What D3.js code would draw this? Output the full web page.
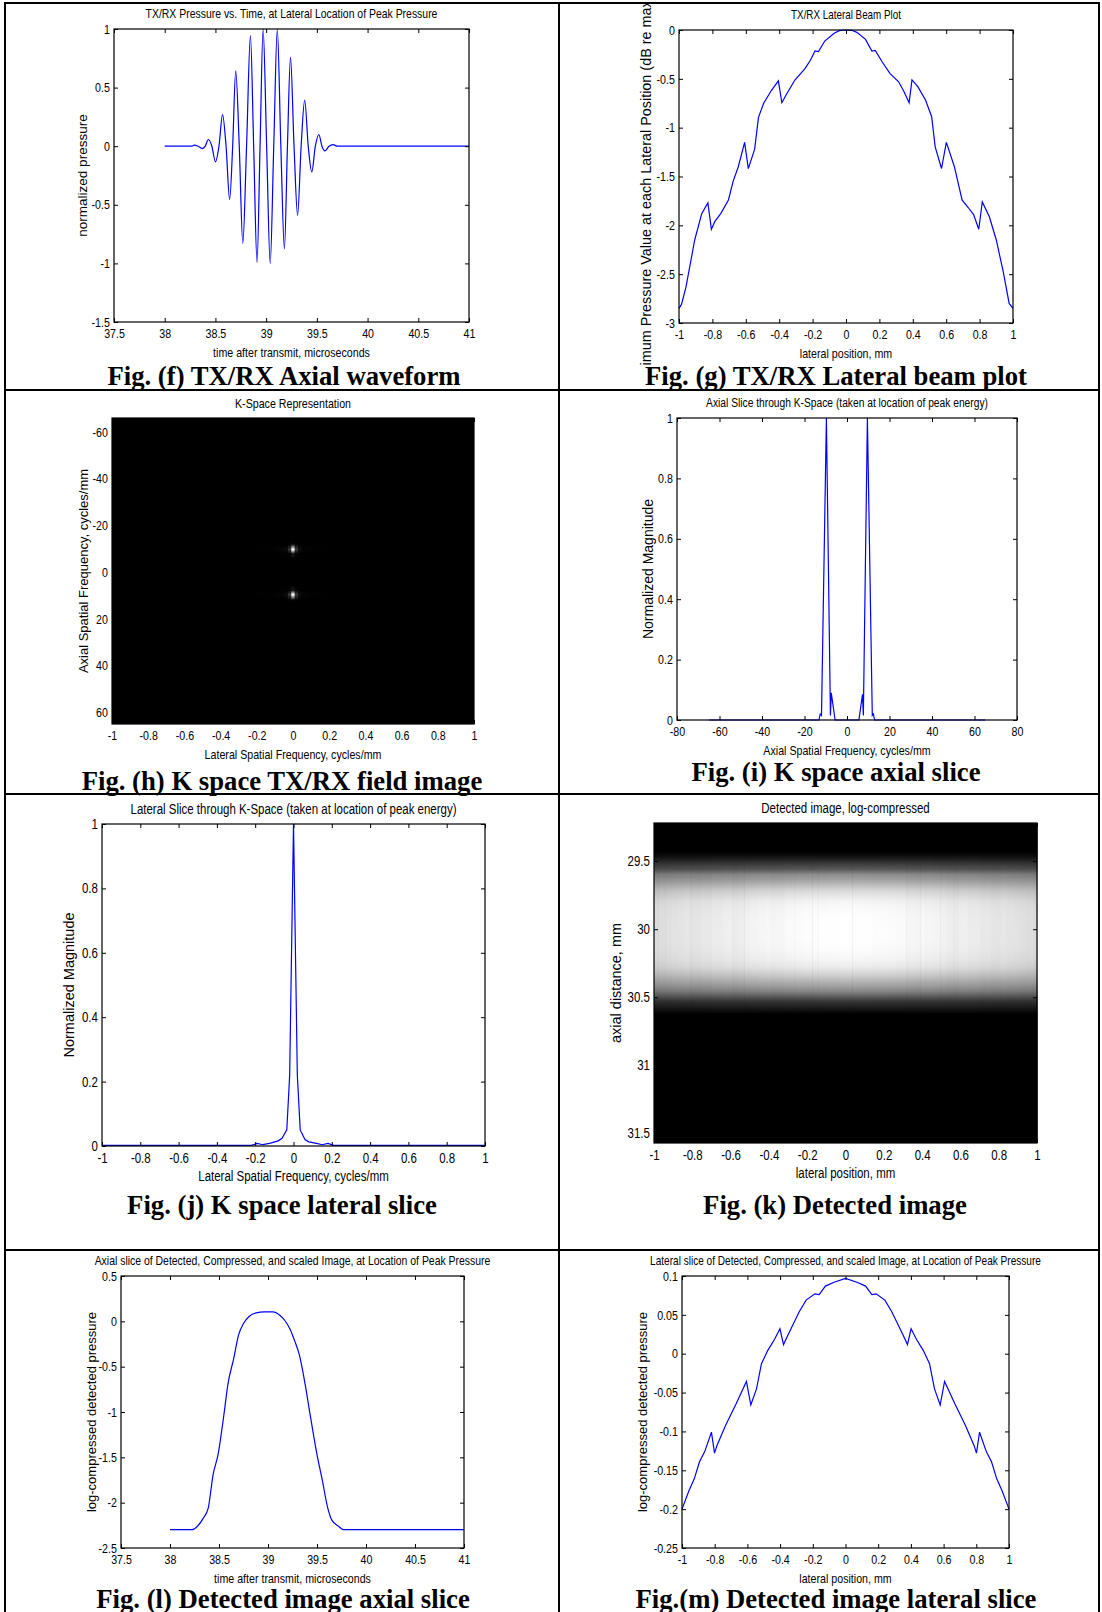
<!DOCTYPE html>
<html>
<head>
<meta charset="utf-8">
<script src="https://cdn.jsdelivr.net/npm/d3@7"></script>
<style>
body{margin:0;background:#fff;}
svg{display:block;}
</style>
</head>
<body>
<div id="chart"></div>
<script>
// ---- data ----
// (f) TX/RX axial waveform
var fTime = [38.0,38.27,38.29,38.33,38.37,38.40,38.43,38.465,38.50,38.535,38.57,38.605,38.64,38.67,38.70,38.735,38.77,38.807,38.845,38.877,38.91,38.94,38.97,39.005,39.04,39.075,39.11,39.145,39.18,39.21,39.24,39.275,39.31,39.345,39.38,39.415,39.45,39.485,39.52,39.55,39.58,39.62,39.66,39.70,41.0];
var fPressure = [0,0,0.01,0,-0.02,0,0.057,0,-0.134,0,0.27,0,-0.454,0,0.643,0,-0.829,0,0.943,0,-0.991,0,1.0,0,-1.0,0,0.994,0,-0.877,0,0.76,0,-0.59,0,0.394,0,-0.22,0,0.1,0,-0.04,0,0.014,0,0];

// (g) TX/RX lateral beam plot, dB
var gPos = [-1,-0.985,-0.958,-0.906,-0.864,-0.827,-0.806,-0.785,-0.75,-0.704,-0.676,-0.645,-0.607,-0.585,-0.547,-0.524,-0.493,-0.447,-0.405,-0.384,-0.359,-0.305,-0.248,-0.213,-0.186,-0.165,-0.127,-0.071,-0.04,0,0.035,0.065,0.117,0.155,0.175,0.217,0.263,0.315,0.347,0.378,0.395,0.43,0.476,0.513,0.534,0.572,0.601,0.649,0.695,0.733,0.764,0.795,0.816,0.858,0.9,0.942,0.977,1];
var gDb = [-2.85,-2.81,-2.63,-2.15,-1.88,-1.77,-2.04,-1.96,-1.88,-1.74,-1.55,-1.40,-1.15,-1.42,-1.22,-0.895,-0.75,-0.62,-0.52,-0.745,-0.666,-0.51,-0.40,-0.31,-0.215,-0.222,-0.113,-0.034,-0.007,0,-0.003,-0.024,-0.096,-0.215,-0.21,-0.328,-0.444,-0.53,-0.63,-0.745,-0.51,-0.58,-0.717,-0.888,-1.196,-1.418,-1.15,-1.40,-1.74,-1.82,-1.89,-2.04,-1.76,-1.91,-2.15,-2.48,-2.80,-2.85];

// (i) axial slice through k-space
var iFreq = [-65,-13.2,-12.6,-12.0,-9.7,-7.8,-7.4,-5.6,5.6,7.3,7.7,9.6,11.9,12.4,13,65];
var iMag = [0,0,0.02,0.015,1,0.015,0.09,0,0,0.085,0.015,1,0.015,0.02,0,0];

// (j) lateral slice through k-space
var jFreq = [-1,-0.22,-0.19,-0.16,-0.12,-0.08,-0.06,-0.035,-0.02,0,0.02,0.035,0.06,0.08,0.12,0.15,0.18,0.21,1];
var jMag = [0.002,0.002,0.008,0.004,0.009,0.016,0.024,0.05,0.22,1,0.22,0.05,0.02,0.013,0.008,0.004,0.008,0.002,0.002];

// (l) axial slice of detected image
var lTime = [38.0,38.223,38.28,38.34,38.39,38.44,38.49,38.55,38.59,38.65,38.70,38.75,38.81,38.88,38.96,39.05,39.12,39.17,39.23,39.27,39.32,39.38,39.43,39.50,39.55,39.61,39.65,39.72,39.77,41.0];
var lValue = [-2.298,-2.298,-2.26,-2.17,-2.06,-1.69,-1.47,-1.03,-0.70,-0.41,-0.15,-0.024,0.056,0.093,0.104,0.104,0.067,0.012,-0.098,-0.21,-0.37,-0.70,-1.03,-1.47,-1.73,-2.06,-2.19,-2.26,-2.298,-2.298];

// (m) lateral slice of detected image
var mPos = [-1,-0.957,-0.925,-0.893,-0.861,-0.82,-0.801,-0.786,-0.733,-0.668,-0.606,-0.579,-0.544,-0.514,-0.476,-0.433,-0.401,-0.379,-0.352,-0.283,-0.241,-0.187,-0.161,-0.123,-0.07,0,0.07,0.123,0.161,0.187,0.241,0.283,0.352,0.379,0.401,0.433,0.476,0.514,0.544,0.579,0.606,0.668,0.733,0.786,0.801,0.82,0.861,0.893,0.925,0.957,1];
var mValue = [-0.2,-0.176,-0.161,-0.139,-0.126,-0.101,-0.128,-0.118,-0.092,-0.064,-0.0356,-0.066,-0.045,-0.0128,0.004,0.019,0.032,0.0117,0.024,0.054,0.069,0.077,0.076,0.087,0.092,0.097,0.092,0.087,0.076,0.077,0.069,0.054,0.024,0.0117,0.032,0.019,0.004,-0.0128,-0.045,-0.066,-0.0356,-0.064,-0.092,-0.118,-0.128,-0.101,-0.126,-0.139,-0.161,-0.176,-0.2];

// tick labels
var timeTicks = [37.5,38,38.5,39,39.5,40,40.5,41];
var latTicks = [-1,-0.8,-0.6,-0.4,-0.2,0,0.2,0.4,0.6,0.8,1];
var fYTicks = [-1.5,-1,-0.5,0,0.5,1];
var gYTicks = [-3,-2.5,-2,-1.5,-1,-0.5,0];
var hYTicks = [-60,-40,-20,0,20,40,60];
var iXTicks = [-80,-60,-40,-20,0,20,40,60,80];
var magTicks = [0,0.2,0.4,0.6,0.8,1];
var kYTicks = [29.5,30,30.5,31,31.5];
var lYTicks = [-2.5,-2,-1.5,-1,-0.5,0,0.5];
var mYTicks = [-0.25,-0.2,-0.15,-0.1,-0.05,0,0.05,0.1];

var HALF_SOUND_SPEED = 0.77; // mm per microsecond, time -> axial distance
var NARROW = 0.82;           // horizontal squeeze of the condensed plot font

var SANS = '"Liberation Sans",Arial,sans-serif';
var SERIF = '"Liberation Serif","Times New Roman",serif';

var svg = d3.select('#chart').append('svg').attr('width', 1102).attr('height', 1612);
var defs = svg.append('defs');
var gradId = 0;

function fmt(d){ return String(+d.toFixed(3)); }

// table grid
function drawGrid(){
	var g = svg.append('g');
	[5, 559, 1099].forEach(function(x){
		g.append('line').attr('x1', x).attr('x2', x).attr('y1', 2).attr('y2', 1612)
			.attr('stroke', '#000').attr('stroke-width', 2);
	});
	[3, 390, 794, 1250].forEach(function(y){
		g.append('line').attr('x1', 4).attr('x2', 1100).attr('y1', y).attr('y2', y)
			.attr('stroke', '#000').attr('stroke-width', 2);
	});
}

function drawAxes(g, p, x, y){
	var b = p.box;
	var fs = p.tickSize || 13;
	var ax = [
		g.append('g').attr('transform', 'translate(0,' + b.y1 + ')')
			.call(d3.axisBottom(x).tickValues(p.xTicks).tickSize(-4).tickPadding(7).tickFormat(fmt)),
		g.append('g').attr('transform', 'translate(0,' + b.y0 + ')')
			.call(d3.axisTop(x).tickValues(p.xTicks).tickSize(-4).tickFormat('')),
		g.append('g').attr('transform', 'translate(' + b.x0 + ',0)')
			.call(d3.axisLeft(y).tickValues(p.yTicks).tickSize(-4).tickPadding(5).tickFormat(fmt)),
		g.append('g').attr('transform', 'translate(' + b.x1 + ',0)')
			.call(d3.axisRight(y).tickValues(p.yTicks).tickSize(-4).tickFormat(''))
	];
	ax.forEach(function(a){
		a.attr('font-family', SANS).attr('font-size', fs);
		a.select('.domain').remove();
		a.selectAll('line').attr('stroke', '#000');
		a.selectAll('text').attr('fill', '#000').attr('transform', 'scale(' + NARROW + ',1)');
	});
	g.append('rect').attr('x', b.x0).attr('y', b.y0)
		.attr('width', b.x1 - b.x0).attr('height', b.y1 - b.y0)
		.attr('fill', 'none').attr('stroke', '#000').attr('stroke-width', 1.2);
}

function narrowText(g, x, y, size, txt){
	return g.append('text')
		.attr('transform', 'translate(' + x + ',' + y + ') scale(' + NARROW + ',1)')
		.attr('dy', '0.35em').attr('text-anchor', 'middle')
		.attr('font-family', SANS).attr('font-size', size).text(txt);
}

function drawLabels(g, p){
	var b = p.box, cx = (b.x0 + b.x1)/2, cy = (b.y0 + b.y1)/2;
	narrowText(g, cx, b.y0 - 15, p.titleSize || 12.75, p.title);
	narrowText(g, cx, b.y1 + 30, p.xLabelSize || 13, p.xLabel);
	var yl = g.append('text').attr('transform', 'translate(' + p.yLabelX + ',' + cy + ') rotate(-90)')
		.attr('dy', '0.35em').attr('text-anchor', 'middle')
		.attr('font-family', SANS).attr('font-size', p.yLabelSize || 13)
		.text(p.yLabel);
	if(p.yLabelClip){
		var id = 'clip' + (gradId++);
		defs.append('clipPath').attr('id', id).append('rect')
			.attr('x', p.yLabelX - 20).attr('y', p.yLabelClip[0])
			.attr('width', 40).attr('height', p.yLabelClip[1] - p.yLabelClip[0]);
		g.append('g').attr('clip-path', 'url(#' + id + ')').node().appendChild(yl.node());
	}
	g.append('text').attr('x', p.captionX).attr('y', p.captionY)
		.attr('text-anchor', 'middle').attr('font-family', SERIF).attr('font-weight', 'bold')
		.attr('font-size', 26.7).text(p.caption);
}

function drawLine(g, x, y, xs, ys, curve){
	var pts = xs.map(function(d, i){ return [d, ys[i]]; });
	g.append('path').datum(pts)
		.attr('d', d3.line().x(function(d){ return x(d[0]); }).y(function(d){ return y(d[1]); }).curve(curve || d3.curveLinear))
		.attr('fill', 'none').attr('stroke', '#0000ff').attr('stroke-width', 1.2);
}

function vGradient(stops){
	var id = 'grad' + (gradId++);
	var lg = defs.append('linearGradient').attr('id', id)
		.attr('x1', 0).attr('y1', 0).attr('x2', 0).attr('y2', 1);
	stops.forEach(function(s){
		lg.append('stop').attr('offset', s[0]).attr('stop-color', s[1]);
	});
	return 'url(#' + id + ')';
}

function grayHex(v){ var c = Math.round(v); return d3.rgb(c, c, c).formatHex(); }

function drawPanel(p){
	var g = svg.append('g');
	var b = p.box;
	var x = d3.scaleLinear().domain(p.xDomain).range([b.x0, b.x1]);
	var y = d3.scaleLinear().domain(p.yDomain).range(p.yDown ? [b.y0, b.y1] : [b.y1, b.y0]);
	p.draw(g, x, y);
	drawAxes(g, p, x, y);
	drawLabels(g, p);
}

// ---- image renderers ----
function drawKSpace(g, x, y){
	var b = this.box;
	g.append('rect').attr('x', b.x0).attr('y', b.y0).attr('width', b.x1 - b.x0).attr('height', b.y1 - b.y0).attr('fill', '#000');
	var gray = d3.scaleLinear().domain([0, 1]).range([0, 255]).clamp(true);
	// runs of the axial slice that carry energy
	var runs = [], start = null;
	for(var k = 0; k < iMag.length; k++){
		if(iMag[k] > 0 && start === null){ start = k - 1; }
		if(iMag[k] === 0 && start !== null){ runs.push([start, k]); start = null; }
	}
	for(var c = 1; c < jFreq.length - 1; c++){
		if(jMag[c] < 0.003) continue;
		var left = x((jFreq[c-1] + jFreq[c])/2), right = x((jFreq[c] + jFreq[c+1])/2);
		runs.forEach(function(r){
			var z0 = iFreq[r[0]], z1 = iFreq[r[1]];
			var stops = [];
			for(var k = r[0]; k <= r[1]; k++){
				stops.push([(iFreq[k] - z0)/(z1 - z0), grayHex(gray(jMag[c]*iMag[k]))]);
			}
			g.append('rect').attr('x', left).attr('y', y(z0)).attr('width', right - left)
				.attr('height', y(z1) - y(z0)).attr('fill', vGradient(stops));
		});
	}
}

function drawDetected(g, x, y){
	var b = this.box;
	g.append('rect').attr('x', b.x0).attr('y', b.y0).attr('width', b.x1 - b.x0).attr('height', b.y1 - b.y0).attr('fill', '#000');
	// axial profile sets the gray ramp, lateral profile dims the band towards the edges
	var gray = d3.scaleLinear()
		.domain([-2.296, -2.25, -2.15, -1.9, -1.4, -0.8, -0.3, 0.1])
		.range([0, 30, 70, 120, 170, 210, 240, 255]).clamp(true);
	var lateral = d3.scaleLinear().domain(d3.extent(mValue)).range([0.86, 1]);
	for(var c = 0; c < mPos.length; c++){
		var left = c === 0 ? mPos[0] : (mPos[c-1] + mPos[c])/2;
		var right = c === mPos.length - 1 ? mPos[c] : (mPos[c] + mPos[c+1])/2;
		var stops = lTime.map(function(t, k){
			var off = (y(t*HALF_SOUND_SPEED) - b.y0)/(b.y1 - b.y0);
			return [off, grayHex(gray(lValue[k])*lateral(mValue[c]))];
		});
		g.append('rect').attr('x', x(left)).attr('y', b.y0).attr('width', x(right) - x(left) + 0.6)
			.attr('height', b.y1 - b.y0).attr('fill', vGradient(stops));
	}
}

drawGrid();

drawPanel({
	box: {x0:114, x1:469, y0:29, y1:322},
	xDomain: [37.5, 41], yDomain: [-1.5, 1], xTicks: timeTicks, yTicks: fYTicks,
	title: 'TX/RX Pressure vs. Time, at Lateral Location of Peak Pressure',
	xLabel: 'time after transmit, microseconds', yLabel: 'normalized pressure',
	yLabelX: 82, yLabelSize: 13.5,
	caption: 'Fig. (f) TX/RX Axial waveform', captionX: 284, captionY: 385,
	draw: function(g, x, y){ drawLine(g, x, y, fTime, fPressure, d3.curveMonotoneX); }
});

drawPanel({
	box: {x0:679, x1:1013, y0:30, y1:323},
	xDomain: [-1, 1], yDomain: [-3, 0], xTicks: latTicks, yTicks: gYTicks, titleSize: 12,
	title: 'TX/RX Lateral Beam Plot',
	xLabel: 'lateral position, mm', yLabel: 'Maximum Pressure Value at each Lateral Position (dB re maximum)',
	yLabelX: 646, yLabelSize: 14.4, yLabelClip: [4, 366],
	caption: 'Fig. (g) TX/RX Lateral beam plot', captionX: 836, captionY: 385,
	draw: function(g, x, y){ drawLine(g, x, y, gPos, gDb); }
});

var hPanel = {
	box: {x0:112, x1:474, y0:418, y1:724},
	xDomain: [-1, 1], yDomain: [-66, 65], yDown: true, xTicks: latTicks, yTicks: hYTicks, titleSize: 13,
	title: 'K-Space Representation',
	xLabel: 'Lateral Spatial Frequency, cycles/mm', yLabel: 'Axial Spatial Frequency, cycles/mm',
	yLabelX: 83, yLabelSize: 13,
	caption: 'Fig. (h) K space TX/RX field image', captionX: 282, captionY: 790
};
hPanel.draw = drawKSpace.bind(hPanel);
drawPanel(hPanel);

drawPanel({
	box: {x0:677, x1:1017, y0:418, y1:720},
	xDomain: [-80, 80], yDomain: [0, 1], xTicks: iXTicks, yTicks: magTicks, titleSize: 12.5,
	title: 'Axial Slice through K-Space (taken at location of peak energy)',
	xLabel: 'Axial Spatial Frequency, cycles/mm', yLabel: 'Normalized Magnitude',
	yLabelX: 648, yLabelSize: 14,
	caption: 'Fig. (i) K space axial slice', captionX: 836, captionY: 781,
	draw: function(g, x, y){ drawLine(g, x, y, iFreq, iMag); }
});

drawPanel({
	box: {x0:102, x1:485, y0:824, y1:1146},
	xDomain: [-1, 1], yDomain: [0, 1], xTicks: latTicks, yTicks: magTicks,
	titleSize: 14, xLabelSize: 14, tickSize: 14,
	title: 'Lateral Slice through K-Space (taken at location of peak energy)',
	xLabel: 'Lateral Spatial Frequency, cycles/mm', yLabel: 'Normalized Magnitude',
	yLabelX: 69, yLabelSize: 14.5,
	caption: 'Fig. (j) K space lateral slice', captionX: 282, captionY: 1214,
	draw: function(g, x, y){ drawLine(g, x, y, jFreq, jMag); }
});

var kPanel = {
	box: {x0:654, x1:1037, y0:823, y1:1143},
	xDomain: [-1, 1], yDomain: [29.22, 31.57], yDown: true, xTicks: latTicks, yTicks: kYTicks,
	titleSize: 14, xLabelSize: 14, tickSize: 14,
	title: 'Detected image, log-compressed',
	xLabel: 'lateral position, mm', yLabel: 'axial distance, mm',
	yLabelX: 616, yLabelSize: 14.5,
	caption: 'Fig. (k) Detected image', captionX: 835, captionY: 1214
};
kPanel.draw = drawDetected.bind(kPanel);
drawPanel(kPanel);

drawPanel({
	box: {x0:121, x1:464, y0:1276, y1:1548},
	xDomain: [37.5, 41], yDomain: [-2.5, 0.5], xTicks: timeTicks, yTicks: lYTicks,
	title: 'Axial slice of Detected, Compressed, and scaled Image, at Location of Peak Pressure',
	xLabel: 'time after transmit, microseconds', yLabel: 'log-compressed detected pressure',
	yLabelX: 91, yLabelSize: 13,
	caption: 'Fig. (l) Detected image axial slice', captionX: 283, captionY: 1608,
	draw: function(g, x, y){ drawLine(g, x, y, lTime, lValue, d3.curveMonotoneX); }
});

drawPanel({
	box: {x0:682, x1:1009, y0:1276, y1:1548},
	xDomain: [-1, 1], yDomain: [-0.25, 0.1], xTicks: latTicks, yTicks: mYTicks, titleSize: 12.3,
	title: 'Lateral slice of Detected, Compressed, and scaled Image, at Location of Peak Pressure',
	xLabel: 'lateral position, mm', yLabel: 'log-compressed detected pressure',
	yLabelX: 642, yLabelSize: 13,
	caption: 'Fig.(m) Detected image lateral slice', captionX: 836, captionY: 1608,
	draw: function(g, x, y){ drawLine(g, x, y, mPos, mValue); }
});
</script>
</body>
</html>
